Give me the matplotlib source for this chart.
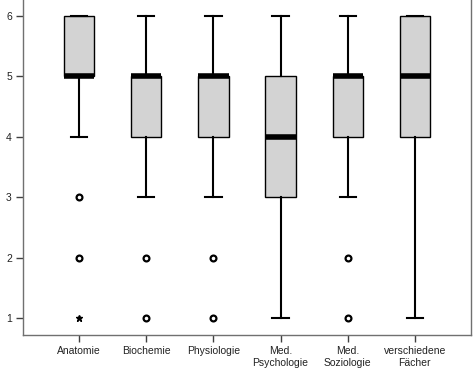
import matplotlib
matplotlib.use('Agg')
import matplotlib.pyplot as plt

faecher = ['Anatomie', 'Biochemie', 'Physiologie', 'Med.\nPsychologie', 'Med.\nSoziologie', 'verschiedene\nFächer']
q1 = [5, 4, 4, 3, 4, 4]
median = [5, 5, 5, 4, 5, 5]
q3 = [6, 5, 5, 5, 5, 6]
whisk_lo = [4, 3, 3, 1, 3, 1]
whisk_hi = [6, 6, 6, 6, 6, 6]
ausreisser = [[3, 2], [2, 1], [2, 1], [], [2, 1], []]
extreme = [[1], [], [], [], [], []]

plt.rcParams['font.family'] = ['Liberation Sans', 'DejaVu Sans']

fig = plt.figure(figsize=(4.76, 3.72), dpi=100)
ax = fig.add_axes([0.0483, 0.0995, 0.9412, 0.9005])

stats = []
for i in range(len(faecher)):
    stats.append({'q1': q1[i], 'med': median[i], 'q3': q3[i],
                  'whislo': whisk_lo[i], 'whishi': whisk_hi[i],
                  'fliers': ausreisser[i], 'label': faecher[i]})

pos = list(range(1, len(faecher) + 1))
ax.bxp(stats, positions=pos, widths=0.45, patch_artist=True,
       boxprops=dict(facecolor='#d3d3d3', edgecolor='black', linewidth=1.0),
       medianprops=dict(color='black', linewidth=4, solid_capstyle='butt'),
       whiskerprops=dict(color='black', linewidth=1.5),
       capprops=dict(color='black', linewidth=1.5),
       capwidths=0.24,
       flierprops=dict(marker='o', markersize=4.2, markerfacecolor='white',
                       markeredgecolor='black', markeredgewidth=1.6))

for p, ex in zip(pos, extreme):
    for v in ex:
        ax.plot(p, v, marker='*', color='black', markersize=4.5, linestyle='none')

ax.set_xlim(0.16, 6.84)
ax.set_ylim(0.72, 6.26)
ax.set_yticks([1, 2, 3, 4, 5, 6])
ax.spines['top'].set_visible(False)
for s in ['left', 'right', 'bottom']:
    ax.spines[s].set_color('#707070')
    ax.spines[s].set_linewidth(1.0)
ax.tick_params(axis='both', direction='out', length=5, width=1.0,
               color='#404040', labelsize=7.5, labelcolor='#222222', pad=3)

plt.savefig('out.png', dpi=100)
